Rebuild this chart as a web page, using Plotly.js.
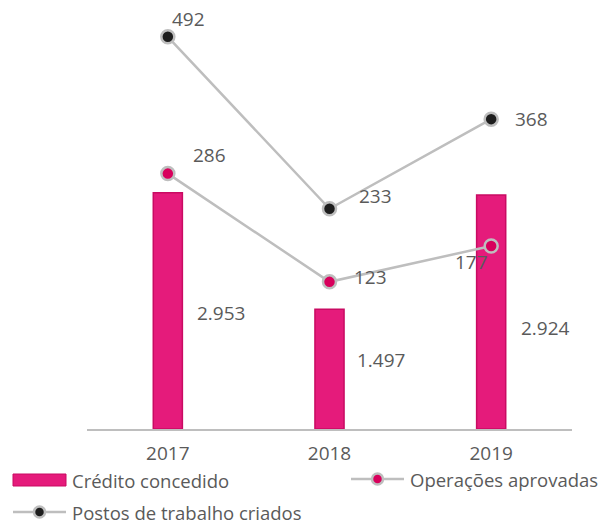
<!DOCTYPE html>
<html>
<head>
<meta charset="utf-8">
<script src="https://cdn.plot.ly/plotly-3.0.1.min.js"></script>
<style>html,body{margin:0;padding:0;background:#fff;}#chart{width:605px;height:524px;}</style>
</head>
<body>
<div id="chart"></div>
<script>
// ---- data ----
const years = ['2017', '2018', '2019'];
const creditoConcedido = [2953, 1497, 2924];
const operacoesAprovadas = [286, 123, 177];
const postosTrabalho = [492, 233, 368];
const seriesNames = ['Crédito concedido', 'Operações aprovadas', 'Postos de trabalho criados'];

// ---- style ----
const FONT = '"Open Sans", "Noto Sans", sans-serif';
const TXT = '#5a5a5a';
const PINK = '#E51B7B';
const PINK_LINE = '#C90B63';
const OP_FILL = '#D8005C';
const PT_FILL = '#1E1E1E';
const GREY = '#BEBEBE';
const FS = 19;
const LFS = 18.5;

const L = 87, R = 33, T = 20, B = 95, W = 605, H = 524;
const PW = W - L - R, PH = H - T - B;
const px = v => (v - L) / PW;
const py = v => (H - B - v) / PH;

function fmt(v) { return String(v).replace(/\B(?=(\d{3})+(?!\d))/g, '.'); }

const traces = [
  {
    type: 'bar', x: years, y: creditoConcedido, name: seriesNames[0],
    width: 0.18,
    marker: { color: PINK, line: { color: PINK_LINE, width: 1.5 } },
    hoverinfo: 'x+y', showlegend: false
  },
  {
    type: 'scatter', mode: 'lines+markers', x: years, y: operacoesAprovadas, name: seriesNames[1],
    yaxis: 'y2',
    line: { color: GREY, width: 2.5 },
    marker: { size: 13, color: OP_FILL, line: { color: GREY, width: 2.5 } },
    showlegend: false
  },
  {
    type: 'scatter', mode: 'lines+markers', x: years, y: postosTrabalho, name: seriesNames[2],
    yaxis: 'y2',
    line: { color: GREY, width: 2.5 },
    marker: { size: 13, color: PT_FILL, line: { color: GREY, width: 2.5 } },
    showlegend: false
  }
];

// label offsets (pixels) relative to each mark
const barLabelOff = [[53, -2], [51, 9], [54, -16]];
const opLabelOff = [[42, 19], [41, 5], [-20, -16]];
const ptLabelOff = [[21, 18], [46, 13], [40, 0]];

const annotations = [];
years.forEach((yr, i) => {
  annotations.push({ x: i, y: creditoConcedido[i] / 2, xref: 'x', yref: 'y', text: fmt(creditoConcedido[i]),
    showarrow: false, xshift: barLabelOff[i][0], yshift: barLabelOff[i][1], font: { family: FONT, size: FS, color: TXT } });
  annotations.push({ x: i, y: operacoesAprovadas[i], xref: 'x', yref: 'y2', text: fmt(operacoesAprovadas[i]),
    showarrow: false, xshift: opLabelOff[i][0], yshift: opLabelOff[i][1], font: { family: FONT, size: FS, color: TXT } });
  annotations.push({ x: i, y: postosTrabalho[i], xref: 'x', yref: 'y2', text: fmt(postosTrabalho[i]),
    showarrow: false, xshift: ptLabelOff[i][0], yshift: ptLabelOff[i][1], font: { family: FONT, size: FS, color: TXT } });
});

// custom legend
const legendItems = [
  { name: seriesNames[0], kind: 'bar', x0: 13, y: 480 },
  { name: seriesNames[1], kind: 'line', fill: OP_FILL, x0: 351, y: 479 },
  { name: seriesNames[2], kind: 'line', fill: PT_FILL, x0: 13, y: 512 }
];
const shapes = [];
legendItems.forEach(it => {
  if (it.kind === 'bar') {
    shapes.push({ type: 'rect', xref: 'paper', yref: 'paper', x0: px(it.x0), x1: px(it.x0 + 53), y0: py(it.y - 6), y1: py(it.y + 6),
      fillcolor: PINK, line: { color: PINK_LINE, width: 1 } });
  } else {
    shapes.push({ type: 'line', xref: 'paper', yref: 'paper', x0: px(it.x0), x1: px(it.x0 + 53), y0: py(it.y), y1: py(it.y),
      line: { color: GREY, width: 2.5 } });
    shapes.push({ type: 'circle', xref: 'paper', yref: 'paper', x0: px(it.x0 + 26.5 - 5.5), x1: px(it.x0 + 26.5 + 5.5),
      y0: py(it.y + 5.5), y1: py(it.y - 5.5), fillcolor: it.fill, line: { color: GREY, width: 2.5 } });
  }
  annotations.push({ xref: 'paper', yref: 'paper', x: px(it.x0 + 58), y: py(it.y), xanchor: 'left', yanchor: 'middle',
    text: it.name, showarrow: false, borderpad: 0, font: { family: FONT, size: LFS, color: TXT } });
});

const layout = {
  width: W, height: H,
  margin: { l: L, r: R, t: T, b: B, pad: 0 },
  paper_bgcolor: '#fff', plot_bgcolor: '#fff',
  font: { family: FONT, size: FS, color: TXT },
  showlegend: false,
  xaxis: {
    type: 'category', range: [-0.5, 2.5], showline: true, linecolor: GREY, linewidth: 2,
    showgrid: false, zeroline: false, ticks: '', ticklabelstandoff: 6,
    tickfont: { family: FONT, size: FS, color: TXT }, fixedrange: true
  },
  yaxis: { range: [0, PH / 0.08], showticklabels: false, showline: false, ticks: '', showgrid: false, zeroline: false, fixedrange: true },
  yaxis2: { range: [-98.6, 517.3], overlaying: 'y', side: 'right', showticklabels: false, showline: false, ticks: '', showgrid: false, zeroline: false, fixedrange: true },
  annotations: annotations,
  shapes: shapes
};

Plotly.newPlot('chart', traces, layout, { displayModeBar: false, staticPlot: true });
</script>
</body>
</html>
